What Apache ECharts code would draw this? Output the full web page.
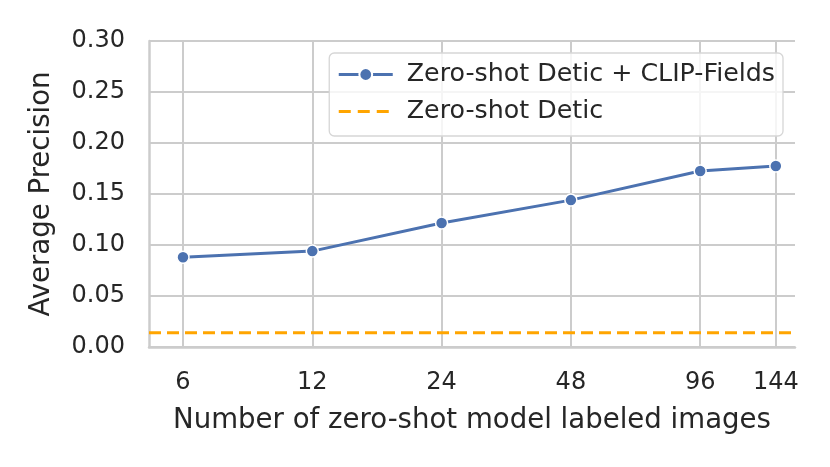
<!DOCTYPE html>
<html><head><meta charset="utf-8">
<script src="https://cdn.jsdelivr.net/npm/echarts@6/dist/echarts.min.js"></script>
<style>html,body{margin:0;padding:0;background:#fff}#c{width:830px;height:467px}</style>
</head><body><div id="c"></div>
<script>
const xValues = [6, 12, 24, 48, 96, 144];
const clipFieldsAP = [0.088, 0.094, 0.1215, 0.144, 0.1725, 0.1775];
const deticAP = 0.014;
const xRange = [5.0, 159.6];
const seriesNames = ['Zero-shot Detic + CLIP-Fields', 'Zero-shot Detic'];

const font = 'DejaVu Sans';
const chart = echarts.init(document.getElementById('c'), null, {renderer: 'canvas'});
chart.setOption({
  animation: false,
  backgroundColor: '#fff',
  grid: {left: 149, right: 35, top: 41, bottom: 120, show: false},
  xAxis: {
    type: 'log', logBase: 2, min: xRange[0], max: xRange[1],
    name: 'Number of zero-shot model labeled images',
    nameLocation: 'middle', nameGap: 60,
    nameTextStyle: {fontFamily: font, fontSize: 27.6, color: '#262626'},
    axisLine: {show: true, onZero: false, lineStyle: {color: '#cccccc', width: 2.5}},
    axisTick: {show: false, customValues: xValues},
    axisLabel: {customValues: xValues, fontFamily: font, fontSize: 24, color: '#262626', margin: 24,
      formatter: v => String(Math.round(v))},
    splitLine: {show: true, lineStyle: {color: '#cccccc', width: 2}}
  },
  yAxis: {
    type: 'value', min: 0, max: 0.30, interval: 0.05,
    name: 'Average Precision', nameLocation: 'middle', nameGap: 93,
    nameTextStyle: {fontFamily: font, fontSize: 27.6, color: '#262626'},
    axisLine: {show: true, lineStyle: {color: '#cccccc', width: 2.5}},
    axisTick: {show: false},
    axisLabel: {fontFamily: font, fontSize: 24, color: '#262626', margin: 24,
      formatter: v => v.toFixed(2)},
    splitLine: {show: true, lineStyle: {color: '#cccccc', width: 2}}
  },
  legend: {
    show: true, orient: 'vertical', right: 47, top: 53, left: 'auto',
    backgroundColor: 'rgba(255,255,255,0.8)', borderColor: '#d6d6d6', borderWidth: 1.3, borderRadius: 5,
    padding: [9, 8, 12, 8], itemGap: 12, itemWidth: 54, itemHeight: 16,
    textStyle: {fontFamily: font, fontSize: 25.3, color: '#262626', padding: [0, 0, 0, 9]},
    data: [
      {name: seriesNames[0], lineStyle: {width: 3, color: '#4c72b0'}},
      {name: seriesNames[1], itemStyle: {color: 'rgba(0,0,0,0)', borderWidth: 0},
        lineStyle: {width: 3, color: '#ffa500', type: [12, 7]}}
    ]
  },
  series: [
    {
      name: seriesNames[0], type: 'line', z: 5,
      data: xValues.map((x, i) => [x, clipFieldsAP[i]]),
      symbol: 'circle', symbolSize: 12,
      lineStyle: {color: '#4c72b0', width: 3},
      itemStyle: {color: '#4c72b0', borderColor: '#ffffff', borderWidth: 1.5}
    },
    {
      name: seriesNames[1], type: 'line', z: 4,
      data: xRange.map(x => [x, deticAP]),
      symbol: 'circle', symbolSize: 0, showSymbol: false,
      lineStyle: {color: '#ffa500', width: 3, type: [12, 6]},
      itemStyle: {color: 'rgba(0,0,0,0)'}
    }
  ]
});
</script></body></html>
